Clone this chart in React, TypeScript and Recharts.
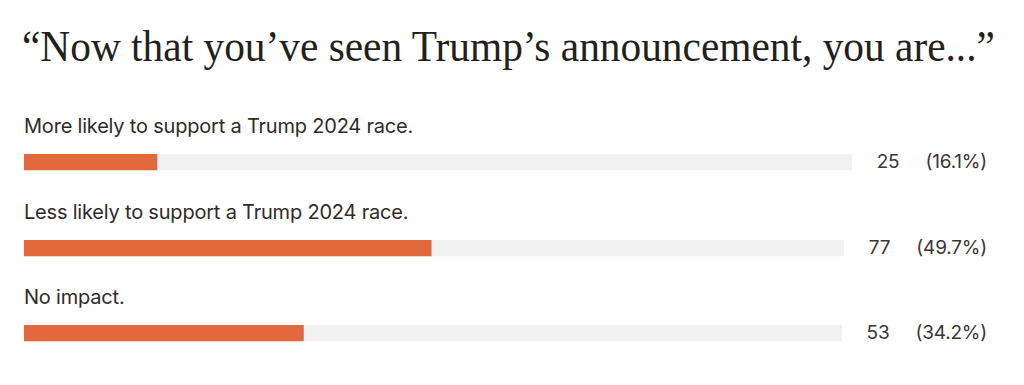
import React from "react";
import { BarChart, Bar, XAxis, YAxis, ResponsiveContainer } from "recharts";

const title = "“Now that you’ve seen Trump’s announcement, you are...”";
const answers = [
  "More likely to support a Trump 2024 race.",
  "Less likely to support a Trump 2024 race.",
  "No impact.",
];
const votes = [25, 77, 53];
const shares = [16.1, 49.7, 34.2];

const ORANGE = "#e1693b";
const TRACK = "#f1f1f1";
const SANS = "Inter, 'Noto Sans', sans-serif";

const numStyle = {
  font: `19px ${SANS}`,
  lineHeight: "20px",
  letterSpacing: "-0.2px",
  color: "#3a3633",
};

const Row = ({ label, count, share, barTop }: { label: string; count: number; share: number; barTop: number }) => (
  <div style={{ position: "absolute", left: 24, top: barTop - 37, width: 963 }}>
    <div
      style={{
        font: `20px ${SANS}`,
        lineHeight: "20px",
        letterSpacing: "-0.2px",
        height: 20,
        color: "#2f2b28",
        whiteSpace: "nowrap",
      }}
    >
      {label}
    </div>
    <div style={{ display: "flex", alignItems: "center", marginTop: 17, height: 18 }}>
      <div style={{ flex: 1, height: 18, minWidth: 0 }}>
        <ResponsiveContainer width="100%" height={18}>
          <BarChart
            layout="vertical"
            data={[{ name: label, share }]}
            margin={{ top: 0, right: 0, bottom: 0, left: 0 }}
            barCategoryGap={0}
          >
            <XAxis type="number" domain={[0, 100]} hide />
            <YAxis type="category" dataKey="name" hide />
            <Bar dataKey="share" fill={ORANGE} background={{ fill: TRACK }} barSize={18} isAnimationActive={false} />
          </BarChart>
        </ResponsiveContainer>
      </div>
      <span style={{ ...numStyle, marginLeft: 25 }}>{count}</span>
      <span style={{ ...numStyle, marginLeft: 26 }}>({share}%)</span>
    </div>
  </div>
);

const App = () => (
  <div style={{ position: "absolute", left: 0, top: 0, width: 1024, height: 385, background: "#fff" }}>
    <div
      style={{
        position: "absolute",
        left: 22,
        top: 25,
        font: "44px 'Liberation Serif', serif",
        lineHeight: "44px",
        color: "#231f1c",
        whiteSpace: "nowrap",
        transform: "scaleX(0.94)",
        transformOrigin: "left top",
      }}
    >
      {title}
    </div>
    {answers.map((a, i) => (
      <Row key={a} label={a} count={votes[i]} share={shares[i]} barTop={153 + i * 85.5} />
    ))}
  </div>
);

export default App;
